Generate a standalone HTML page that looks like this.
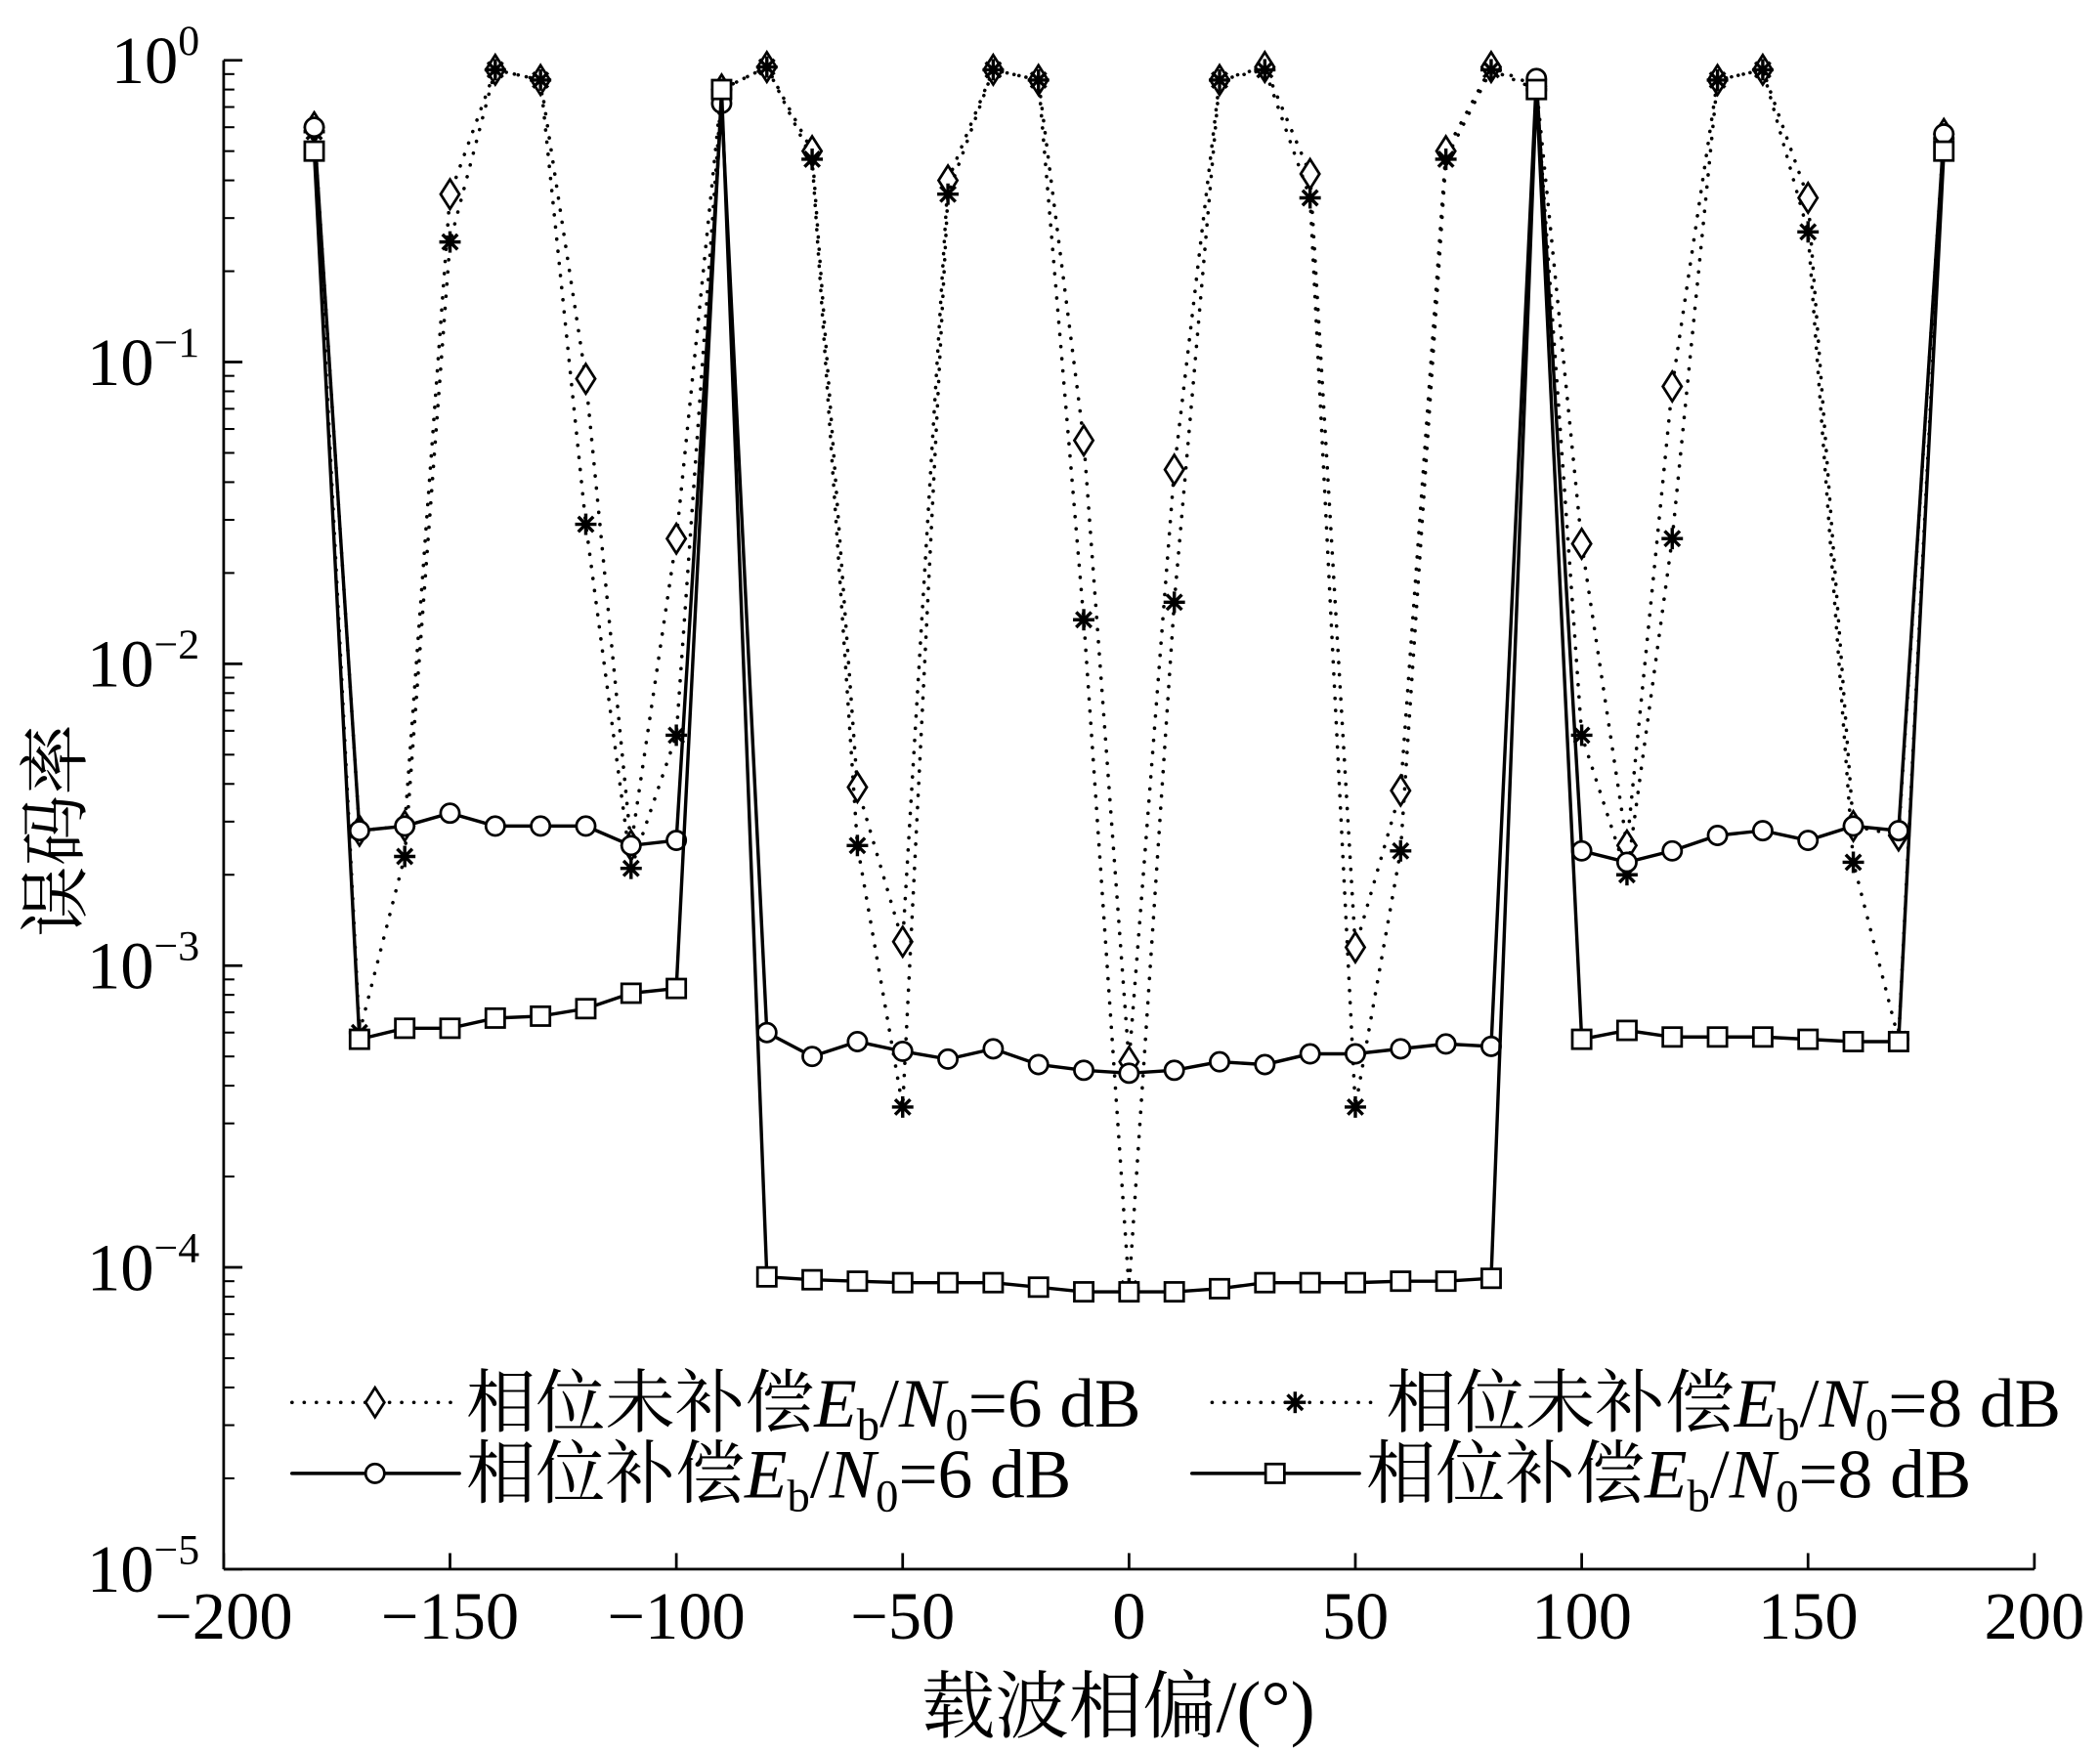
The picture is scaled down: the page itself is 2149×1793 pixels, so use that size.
<!DOCTYPE html>
<html><head><meta charset="utf-8">
<style>
html,body{margin:0;padding:0;background:#fff;}
svg{display:block;}
text{font-family:"Liberation Serif","Noto Serif CJK SC",serif;fill:#000;}
</style></head>
<body>
<svg id="chart" width="2149" height="1793" viewBox="0 0 1568 1308" preserveAspectRatio="none" xmlns="http://www.w3.org/2000/svg">
<g id="axes"></g>
<g id="series"></g>
<g id="legend"></g>
</svg>
<script>
const xCats = [-180,-170,-160,-150,-140,-130,-120,-110,-100,-90,-80,-70,-60,-50,-40,-30,-20,-10,0,10,20,30,40,50,60,70,80,90,100,110,120,130,140,150,160,170,180];
const uncomp6 = [0.6,2.8e-3,2.9e-3,0.36,0.93,0.86,0.088,2.5e-3,0.026,0.8,0.95,0.5,3.9e-3,1.2e-3,0.4,0.93,0.86,0.055,4.8e-4,0.044,0.86,0.95,0.42,1.15e-3,3.8e-3,0.5,0.95,0.82,0.025,2.5e-3,0.083,0.86,0.93,0.35,2.9e-3,2.7e-3,0.57];
const uncomp8 = [0.58,6e-4,2.3e-3,0.25,0.93,0.86,0.029,2.1e-3,5.8e-3,0.8,0.95,0.47,2.5e-3,3.4e-4,0.36,0.93,0.86,0.014,8.5e-5,0.016,0.86,0.93,0.35,3.4e-4,2.4e-3,0.47,0.93,0.8,5.8e-3,2.0e-3,0.026,0.86,0.93,0.27,2.2e-3,5.7e-4,0.55];
const comp6 = [0.6,2.8e-3,2.9e-3,3.2e-3,2.9e-3,2.9e-3,2.9e-3,2.5e-3,2.6e-3,0.72,6e-4,5e-4,5.6e-4,5.2e-4,4.9e-4,5.3e-4,4.7e-4,4.5e-4,4.4e-4,4.5e-4,4.8e-4,4.7e-4,5.1e-4,5.1e-4,5.3e-4,5.5e-4,5.4e-4,0.87,2.4e-3,2.2e-3,2.4e-3,2.7e-3,2.8e-3,2.6e-3,2.9e-3,2.8e-3,0.57];
const comp8 = [0.5,5.7e-4,6.2e-4,6.2e-4,6.7e-4,6.8e-4,7.2e-4,8.1e-4,8.4e-4,0.8,9.3e-5,9.1e-5,9e-5,8.9e-5,8.9e-5,8.9e-5,8.6e-5,8.3e-5,8.3e-5,8.3e-5,8.5e-5,8.9e-5,8.9e-5,8.9e-5,9e-5,9e-5,9.2e-5,0.8,5.7e-4,6.1e-4,5.8e-4,5.8e-4,5.8e-4,5.7e-4,5.6e-4,5.6e-4,0.5];
const xTicks = [-200,-150,-100,-50,0,50,100,150,200];
const xTickLabels = ["\u2212200","\u2212150","\u2212100","\u221250","0","50","100","150","200"];
const yExps = [0,-1,-2,-3,-4,-5];
const yExpLabels = ["0","\u22121","\u22122","\u22123","\u22124","\u22125"];

const NS="http://www.w3.org/2000/svg";
const X0=167,X1=1519,Y0=45,DEC=225.3;
function sx(v){return X0+(v+200)/400*(X1-X0);}
function sy(v){return Y0-Math.log10(v)*DEC;}
function mk(tag,attrs,parent){const e=document.createElementNS(NS,tag);for(const k in attrs)e.setAttribute(k,attrs[k]);parent.appendChild(e);return e;}
const axes=document.getElementById('axes');
const yb=sy(1e-5);
let l=mk('line',{x1:X0,y1:Y0,x2:X0,y2:yb,stroke:'#000','stroke-width':2},axes);


l=mk('line',{x1:X0,y1:yb,x2:X1,y2:yb,stroke:'#000','stroke-width':2},axes);


xTicks.forEach((v,i)=>{
  const x=sx(v);
  mk('line',{x1:x,y1:yb,x2:x,y2:yb-12,stroke:'#000','stroke-width':2},axes);
  const t=mk('text',{x:x,y:yb+52,'font-size':50,'text-anchor':'middle'},axes);
  t.textContent=xTickLabels[i];
  
  
});
yExps.forEach((e,i)=>{
  const y=sy(Math.pow(10,e));
  mk('line',{x1:X0,y1:y,x2:X0+14,y2:y,stroke:'#000','stroke-width':2},axes);
  if(e>-5){for(let m=2;m<10;m++){const yy=sy(m*Math.pow(10,e-1));mk('line',{x1:X0,y1:yy,x2:X0+8,y2:yy,stroke:'#000','stroke-width':1.5},axes);}}
  const t=mk('text',{x:X0-18,y:y+17,'font-size':50,'text-anchor':'end'},axes);
  
  
  const a=document.createElementNS(NS,'tspan');a.textContent='10';t.appendChild(a);
  const b=document.createElementNS(NS,'tspan');b.setAttribute('dy','-21');b.setAttribute('font-size','32');b.textContent=yExpLabels[i];t.appendChild(b);
});
let t=mk('text',{x:835,y:1293,'font-size':55,'text-anchor':'middle'},axes);
t.textContent='载波相偏/(°)';


t=mk('text',{x:0,y:0,'font-size':53,'text-anchor':'middle',transform:'translate(60,620) rotate(-90)'},axes);
t.textContent='误码率';



function marker(type,x,y,g){
  const s={fill:'#fff',stroke:'#000','stroke-width':2};
  let m;
  if(type==='diamond') m=mk('polygon',Object.assign({points:`${x},${y-11} ${x+7},${y} ${x},${y+11} ${x-7},${y}`},s),g);
  else if(type==='circle') m=mk('circle',Object.assign({cx:x,cy:y,r:7},s),g);
  else if(type==='square') m=mk('rect',Object.assign({x:x-7,y:y-7,width:14,height:14},s),g);
  else { m=mk('g',{},g); for(let a=0;a<180;a+=45){const r=a*Math.PI/180;mk('line',{x1:x-8*Math.cos(r),y1:y-8*Math.sin(r),x2:x+8*Math.cos(r),y2:y+8*Math.sin(r),stroke:'#000','stroke-width':2.5},m);} }
  return m;
}
const DOT='0.1,9';
const sg=document.getElementById('series');
const defs=[
 {vals:uncomp6,type:'diamond',dash:DOT,name:'uncomp-6db'},
 {vals:uncomp8,type:'star',dash:DOT,name:'uncomp-8db'},
 {vals:comp6,type:'circle',dash:'',name:'comp-6db'},
 {vals:comp8,type:'square',dash:'',name:'comp-8db'}];
defs.forEach(d=>{
  const g=mk('g',{},sg);
  
  
  const pts=xCats.map((x,i)=>sx(x)+','+sy(d.vals[i])).join(' ');
  const pl=mk('polyline',{points:pts,fill:'none',stroke:'#000','stroke-width':d.dash?2.6:2.5,'stroke-dasharray':d.dash,'stroke-linecap':'round'},g);
  
  
  xCats.forEach((x,i)=>{const m=marker(d.type,sx(x),sy(d.vals[i]),g);
    
    });
});
const lg=document.getElementById('legend');
const ents=[
 {type:'diamond',dash:DOT,x:218,y:1047,label:'相位未补偿',db:'6 dB'},
 {type:'star',dash:DOT,x:905,y:1047,label:'相位未补偿',db:'8 dB'},
 {type:'circle',dash:'',x:218,y:1100,label:'相位补偿',db:'6 dB'},
 {type:'square',dash:'',x:890,y:1100,label:'相位补偿',db:'8 dB'}];
ents.forEach(e=>{
  const g=mk('g',{},lg);
  
  
  mk('line',{x1:e.x,y1:e.y,x2:e.x+125,y2:e.y,stroke:'#000','stroke-width':2.6,'stroke-dasharray':e.dash,'stroke-linecap':'round'},g);
  marker(e.type,e.x+62,e.y,g);
  const tx=mk('text',{x:e.x+130,y:e.y+18,'font-size':52},g);
  const parts=[[e.label,{}],['E',{'font-style':'italic'}],['b',{'font-size':34,dy:10}],['/',{dy:-10}],['N',{'font-style':'italic'}],['0',{'font-size':34,dy:10}],['='+e.db,{dy:-10}]];
  parts.forEach(p=>{const s=document.createElementNS(NS,'tspan');for(const k in p[1])s.setAttribute(k,p[1][k]);s.textContent=p[0];tx.appendChild(s);});
});
</script>
</body></html>
